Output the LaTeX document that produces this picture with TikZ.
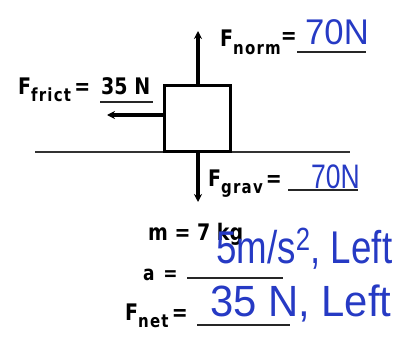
\documentclass[tikz,border=0pt]{standalone}
\usepackage{fontspec}
\setmainfont{DejaVu Sans}
\newfontfamily\subf[LetterSpace=8]{DejaVu Sans}
\newfontfamily\handf{Liberation Sans}
\usetikzlibrary{arrows.meta}
\definecolor{hand}{RGB}{38,58,196}
\newcommand\labF[1]{F\raisebox{-6pt}{\fontsize{15}{15}\selectfont\subf\bfseries #1}}
\newcommand\tall[1]{\scalebox{1}[1.2]{#1}}
\tikzset{
  lab/.style={anchor=base west, inner sep=0pt, font=\fontsize{19}{19}\selectfont\bfseries},
  handw/.style={anchor=base west, inner sep=0pt, text=hand, font=\handf},
  thick line/.style={line width=3.3pt},
  force/.style={line width=3.3pt, -{Stealth[length=8pt,width=8pt]}},
  uline/.style={line width=1.5pt, black!85},
}
\begin{document}
\begin{tikzpicture}[x=1pt,y=-1pt]
\useasboundingbox (0,0) rectangle (404,337);
% ground
\coordinate (g1) at (35,152);
\coordinate (g2) at (350,152);
\draw[line width=1.8pt, black!80] (g1) -- (g2);
% block
\node[draw, thick line, minimum width=66pt, minimum height=66pt, inner sep=0pt, anchor=north west] (box) at (163,84) {};
% forces
\coordinate (ntip) at (198,31);
\coordinate (ftip) at (107,115);
\coordinate (gtop) at (198,151);
\coordinate (gtip) at (198,202);
\draw[force] (box.north -| ntip) -- (ntip);
\draw[force] (box.west |- ftip) -- (ftip);
\draw[force] (gtop) -- (gtip);
% F norm
\node[lab] (fnorm) at (220,47) {\tall{\labF{norm}\raisebox{3pt}{=}}};
\draw[uline] (297,52) -- (366,52);
\node[handw, font=\handf\fontsize{34}{34}\selectfont] (n70) at (305,45) {\scalebox{1.02}[1.05]{70N}};
% F frict
\node[lab] (ffrict) at (18,94) {\tall{\labF{frict}\,=}};
\node[lab] (f35) at (101,94) {\tall{35 N}};
\draw[uline] (100,102) -- (153,102);
% F grav
\node[lab] (fgrav) at (208,186) {\tall{\labF{grav}\,=}};
\draw[uline] (288,190) -- (358,190);
\node[handw, font=\handf\fontsize{34}{34}\selectfont] (g70) at (311,188) {\scalebox{0.78}[1]{70N}};
% m, a, Fnet
\node[lab, font=\fontsize{19}{19}\selectfont\bfseries] (mass) at (148,240) {\tall{m = 7 kg}};
\node[lab, font=\fontsize{17}{17}\selectfont\bfseries] (acc) at (143,280) {\tall{a \,=}};
\draw[uline] (187,278) -- (283,278);
\node[handw, font=\handf\fontsize{34}{34}\selectfont] (aval) at (216,263) {\scalebox{1.08}[1.35]{5m/s\textsuperscript{2}, Left}};
\node[lab] (fnet) at (125,320) {\tall{\labF{net}\,=}};
\draw[uline] (197,325) -- (290,325);
\node[handw, font=\handf\fontsize{38}{38}\selectfont] (fval) at (210,316) {\scalebox{1.1}[1.15]{35 N, Left}};
\end{tikzpicture}
\end{document}
